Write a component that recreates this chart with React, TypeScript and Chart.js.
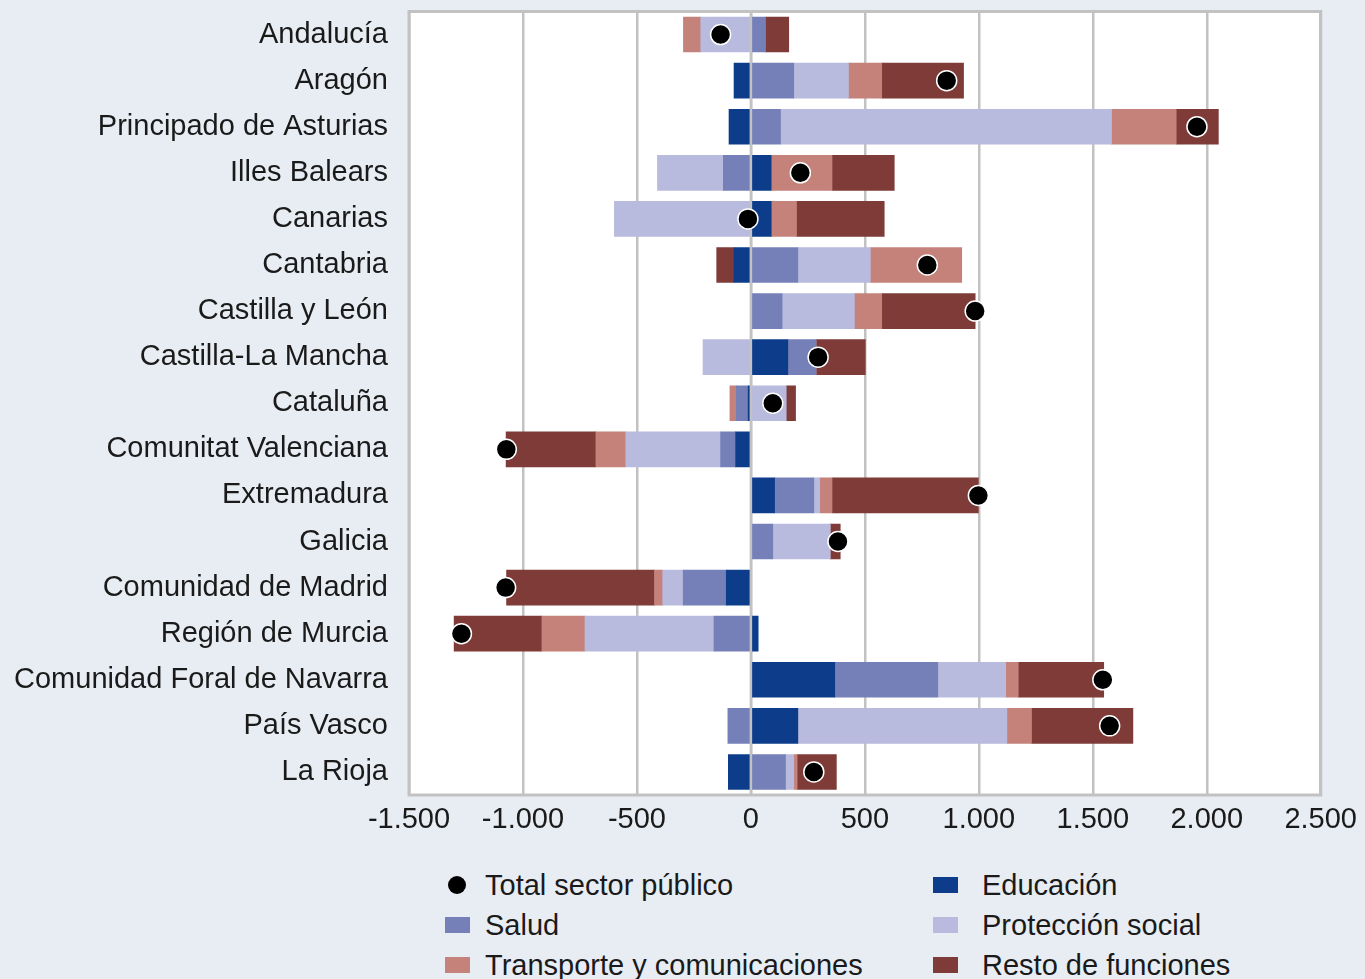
import React, { useEffect, useRef } from "react";
import { Chart, registerables } from "chart.js";

Chart.register(...registerables);

const categories = [
  "Andalucía",
  "Aragón",
  "Principado de Asturias",
  "Illes Balears",
  "Canarias",
  "Cantabria",
  "Castilla y León",
  "Castilla-La Mancha",
  "Cataluña",
  "Comunitat Valenciana",
  "Extremadura",
  "Galicia",
  "Comunidad de Madrid",
  "Región de Murcia",
  "Comunidad Foral de Navarra",
  "País Vasco",
  "La Rioja",
];

const educacion = [0, -74, -96, 89, 89, -74, 0, 162, -12, -67, 104, 0, -108, 32, 368, 206, -99];
const salud = [64, 188, 130, -121, 0, 206, 137, 124, -52, -66, 172, 96, -189, -162, 452, -101, 152];
const proteccion = [-220, 240, 1452, -289, -599, 318, 317, -210, 155, -416, 26, 252, -90, -566, 298, 917, 36];
const transporte = [-76, 146, 284, 267, 111, 401, 120, 0, -28, -131, 54, 0, -36, -189, 55, 108, 15];
const resto = [102, 359, 185, 273, 385, -76, 410, 216, 41, -394, 642, 44, -649, -385, 375, 445, 172];
const total = [-133, 859, 1957, 217, -13, 774, 984, 295, 96, -1073, 998, 382, -1076, -1270, 1544, 1574, 276];

const xMin = -1500;
const xMax = 2500;
const xStep = 500;

const seriesNames = [
  "Total sector público",
  "Educación",
  "Salud",
  "Protección social",
  "Transporte y comunicaciones",
  "Resto de funciones",
];

const COLORS = {
  educacion: "#0d3d8a",
  salud: "#7680b8",
  proteccion: "#b8bbdd",
  transporte: "#c4827a",
  resto: "#7e3b37",
};

const GRID = "#c2c2c2";
const BG = "#e8edf3";
const FONT = "'Liberation Sans', Arial, sans-serif";

function fmt(v: number): string {
  const s = Math.abs(v).toString();
  const withDots = s.replace(/\B(?=(\d{3})+(?!\d))/g, ".");
  return (v < 0 ? "-" : "") + withDots;
}

const plotPlugin = {
  id: "plotDecor",
  beforeDraw(chart: any) {
    const { ctx, chartArea } = chart;
    ctx.save();
    ctx.fillStyle = "#ffffff";
    ctx.fillRect(chartArea.left, chartArea.top, chartArea.right - chartArea.left, chartArea.bottom - chartArea.top);
    ctx.restore();
  },
  beforeDatasetDraw(chart: any, args: any) {
    if (args.index !== 0) return;
    const { ctx, chartArea } = chart;
    const x = chart.scales.x.getPixelForValue(0);
    ctx.save();
    ctx.strokeStyle = GRID;
    ctx.lineWidth = 2.5;
    ctx.beginPath();
    ctx.moveTo(x, chartArea.top);
    ctx.lineTo(x, chartArea.bottom);
    ctx.stroke();
    ctx.restore();
  },
  afterDraw(chart: any) {
    const { ctx, chartArea } = chart;
    ctx.save();
    ctx.strokeStyle = GRID;
    ctx.lineWidth = 3;
    ctx.strokeRect(chartArea.left, chartArea.top, chartArea.right - chartArea.left, chartArea.bottom - chartArea.top);
    ctx.restore();
  },
};

export default function App() {
  const ref = useRef<HTMLCanvasElement | null>(null);

  useEffect(() => {
    document.body.style.margin = "0";
    const barDs = (label: string, data: number[], color: string) => ({
      type: "bar" as const,
      label,
      data,
      backgroundColor: color,
      borderWidth: 0,
      stack: "s",
      order: 0,
      barThickness: 35,
    });
    const chart = new Chart(ref.current as HTMLCanvasElement, {
      type: "bar",
      data: {
        labels: categories,
        datasets: [
          {
            type: "line" as const,
            label: seriesNames[0],
            data: total,
            showLine: false,
            pointRadius: 10,
            pointBackgroundColor: "#000000",
            pointBorderColor: "#ffffff",
            pointBorderWidth: 1.5,
            stack: "total",
            order: -1,
          } as any,
          barDs(seriesNames[1], educacion, COLORS.educacion),
          barDs(seriesNames[2], salud, COLORS.salud),
          barDs(seriesNames[3], proteccion, COLORS.proteccion),
          barDs(seriesNames[4], transporte, COLORS.transporte),
          barDs(seriesNames[5], resto, COLORS.resto),
        ],
      },
      options: {
        indexAxis: "y",
        responsive: false,
        animation: false,
        layout: { padding: { top: 10, right: 42, left: 0, bottom: 0 } },
        plugins: {
          legend: { display: false },
          tooltip: { enabled: false },
        },
        scales: {
          x: {
            stacked: true,
            min: xMin,
            max: xMax,
            ticks: {
              stepSize: xStep,
              color: "#1a1a1a",
              font: { family: FONT, size: 29 },
              padding: 8,
              maxRotation: 0,
              callback: (v: any) => fmt(Number(v)),
            },
            grid: { color: GRID, lineWidth: 2.5, drawTicks: false },
            border: { display: false },
            afterFit: (scale: any) => {
              scale.height = 65;
            },
          },
          y: {
            stacked: true,
            ticks: {
              color: "#1a1a1a",
              font: { family: FONT, size: 29 },
              padding: 21,
              autoSkip: false,
            },
            grid: { display: false, drawTicks: false },
            border: { display: false },
            afterFit: (scale: any) => {
              scale.width = 409;
              scale.paddingTop = 0;
              scale.paddingBottom = 0;
            },
          },
        },
      },
      plugins: [plotPlugin],
    } as any);
    return () => chart.destroy();
  }, []);

  const legendItems = [
    { name: seriesNames[0], kind: "dot", color: "#000000", col: 0, row: 0 },
    { name: seriesNames[1], kind: "sq", color: COLORS.educacion, col: 1, row: 0 },
    { name: seriesNames[2], kind: "sq", color: COLORS.salud, col: 0, row: 1 },
    { name: seriesNames[3], kind: "sq", color: COLORS.proteccion, col: 1, row: 1 },
    { name: seriesNames[4], kind: "sq", color: COLORS.transporte, col: 0, row: 2 },
    { name: seriesNames[5], kind: "sq", color: COLORS.resto, col: 1, row: 2 },
  ];
  const colMarker = [445, 933];
  const colText = [485, 982];
  const rowY = [885, 925, 965];

  return (
    <div style={{ position: "relative", width: 1365, height: 979, background: BG, overflow: "hidden", fontFamily: FONT }}>
      <canvas ref={ref} width={1365} height={860} style={{ position: "absolute", left: 0, top: 0, width: 1365, height: 860 }} />
      {legendItems.map((it, i) => (
        <React.Fragment key={i}>
          {it.kind === "dot" ? (
            <div
              style={{
                position: "absolute",
                left: colMarker[it.col] + 3,
                top: rowY[it.row] - 9,
                width: 18,
                height: 18,
                borderRadius: "50%",
                background: it.color,
              }}
            />
          ) : (
            <div
              style={{
                position: "absolute",
                left: colMarker[it.col],
                top: rowY[it.row] - 8,
                width: 25,
                height: 16,
                background: it.color,
              }}
            />
          )}
          <div
            style={{
              position: "absolute",
              left: colText[it.col],
              top: rowY[it.row] - 17,
              fontSize: 29,
              lineHeight: "34px",
              color: "#1a1a1a",
              whiteSpace: "nowrap",
            }}
          >
            {it.name}
          </div>
        </React.Fragment>
      ))}
    </div>
  );
}
